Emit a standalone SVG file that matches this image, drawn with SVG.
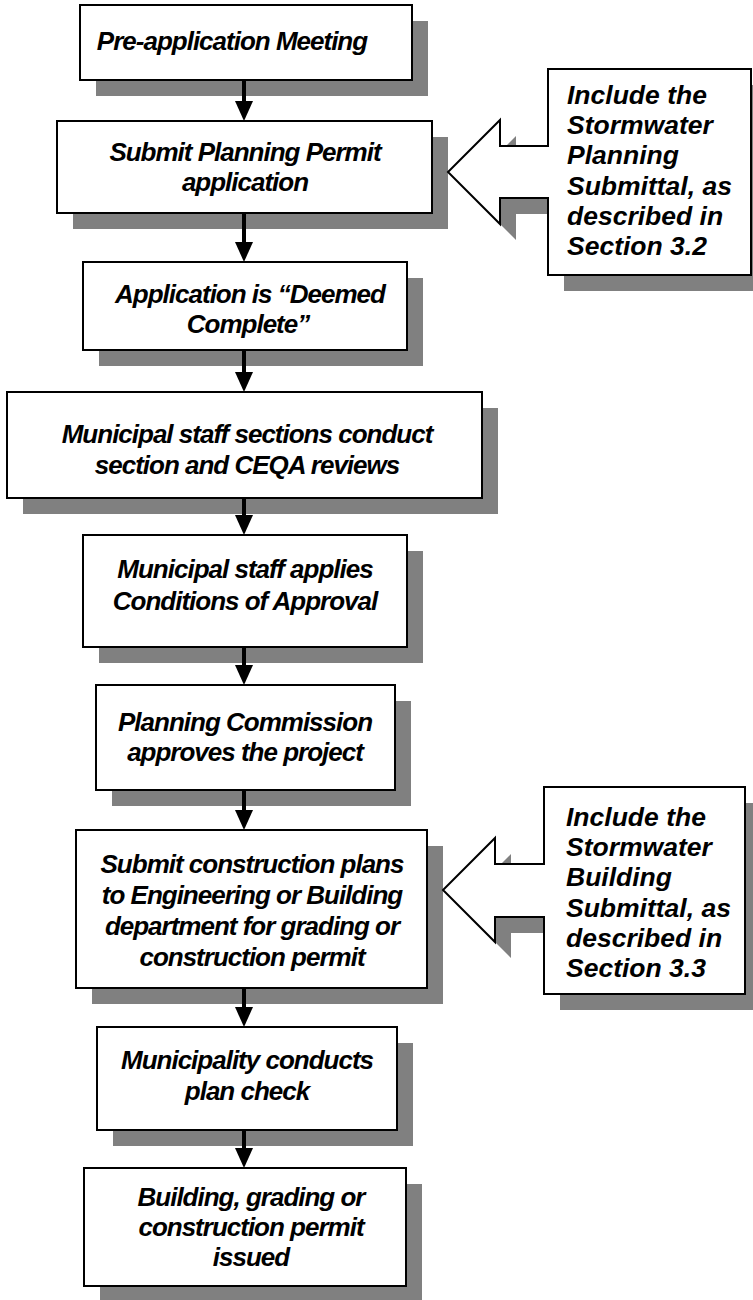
<svg xmlns="http://www.w3.org/2000/svg" width="753" height="1300" viewBox="0 0 753 1300">
<defs>
<style>
.sh{fill:#808080}
.bx{fill:#fff;stroke:#000;stroke-width:2}
.t{font-family:"Liberation Sans",Arial,sans-serif;font-weight:bold;font-style:italic;font-size:26px;letter-spacing:-1px;fill:#000;text-anchor:middle}
.c{font-family:"Liberation Sans",Arial,sans-serif;font-weight:bold;font-style:italic;font-size:26.5px;fill:#000;text-anchor:start}
.ln{stroke:#000;stroke-width:4;fill:none}
</style>
<marker id="ah" markerUnits="userSpaceOnUse" viewBox="0 0 20 18" markerWidth="20" markerHeight="18" refX="10" refY="9" orient="auto">
<polygon points="0,0 20,9 0,18" fill="#000"/>
</marker>
</defs>
<rect width="753" height="1300" fill="#fff"/>

<g id="n1">
<rect class="sh" x="96" y="21" width="332" height="75"/>
<rect class="bx" x="80" y="5" width="332" height="75"/>
<text class="t" x="232" y="50">Pre-application Meeting</text>
</g>

<g id="n2">
<rect class="sh" x="73" y="137" width="375" height="92"/>
<rect class="bx" x="57" y="121" width="375" height="92"/>
<text class="t" x="245" y="161">Submit Planning Permit</text>
<text class="t" x="245" y="191">application</text>
</g>

<g id="n3">
<rect class="sh" x="99" y="278" width="324" height="88"/>
<rect class="bx" x="83" y="262" width="324" height="88"/>
<text class="t" x="250" y="303">Application is “Deemed</text>
<text class="t" x="248" y="333">Complete”</text>
</g>

<g id="n4">
<rect class="sh" x="23" y="408" width="475" height="106"/>
<rect class="bx" x="7" y="392" width="475" height="106"/>
<text class="t" x="247" y="443">Municipal staff sections conduct</text>
<text class="t" x="247" y="474">section and CEQA reviews</text>
</g>

<g id="n5">
<rect class="sh" x="99" y="551" width="324" height="112"/>
<rect class="bx" x="83" y="535" width="324" height="112"/>
<text class="t" x="245" y="578">Municipal staff applies</text>
<text class="t" x="245" y="610">Conditions of Approval</text>
</g>

<g id="n6">
<rect class="sh" x="112" y="701" width="299" height="105"/>
<rect class="bx" x="96" y="685" width="299" height="105"/>
<text class="t" x="245" y="731">Planning Commission</text>
<text class="t" x="245" y="761">approves the project</text>
</g>

<g id="n7">
<rect class="sh" x="92" y="846" width="351" height="158"/>
<rect class="bx" x="76" y="830" width="351" height="158"/>
<text class="t" x="252" y="873">Submit construction plans</text>
<text class="t" x="252" y="904">to Engineering or Building</text>
<text class="t" x="252" y="935">department for grading or</text>
<text class="t" x="252" y="966">construction permit</text>
</g>

<g id="n8">
<rect class="sh" x="113" y="1043" width="300" height="103"/>
<rect class="bx" x="97" y="1027" width="300" height="103"/>
<text class="t" x="247" y="1069">Municipality conducts</text>
<text class="t" x="247" y="1100">plan check</text>
</g>

<g id="n9">
<rect class="sh" x="100" y="1184" width="322" height="118"/>
<rect class="bx" x="84" y="1168" width="322" height="118"/>
<text class="t" x="251" y="1206">Building, grading or</text>
<text class="t" x="251" y="1236">construction permit</text>
<text class="t" x="251" y="1266">issued</text>
</g>

<g id="callout1">
<path class="sh" d="M564,85 H768 V291 H564 V214 H516 V240 L464,188 L516,136 V162 H564 Z"/>
<path class="bx" d="M548,69 H751 V275 H548 V198 H500 V224 L448,172 L500,120 V146 H548 Z"/>
<text class="c" x="567" y="104">Include the</text>
<text class="c" x="567" y="134">Stormwater</text>
<text class="c" x="567" y="164">Planning</text>
<text class="c" x="567" y="195">Submittal, as</text>
<text class="c" x="567" y="225">described in</text>
<text class="c" x="567" y="255">Section 3.2</text>
</g>

<g id="callout2">
<path class="sh" d="M560,803 H761 V1010 H560 V933 H511 V958 L459,906 L511,854 V880 H560 Z"/>
<path class="bx" d="M544,787 H745 V994 H544 V917 H495 V942 L443,890 L495,838 V864 H544 Z"/>
<text class="c" x="566" y="826">Include the</text>
<text class="c" x="566" y="856">Stormwater</text>
<text class="c" x="566" y="886">Building</text>
<text class="c" x="566" y="917">Submittal, as</text>
<text class="c" x="566" y="947">described in</text>
<text class="c" x="566" y="977">Section 3.3</text>
</g>

<g id="connectors">
<line class="ln" x1="244" y1="80" x2="244" y2="111" marker-end="url(#ah)"/>
<line class="ln" x1="244" y1="213" x2="244" y2="252" marker-end="url(#ah)"/>
<line class="ln" x1="244" y1="350" x2="244" y2="382" marker-end="url(#ah)"/>
<line class="ln" x1="244" y1="498" x2="244" y2="525" marker-end="url(#ah)"/>
<line class="ln" x1="244" y1="647" x2="244" y2="675" marker-end="url(#ah)"/>
<line class="ln" x1="244" y1="790" x2="244" y2="820" marker-end="url(#ah)"/>
<line class="ln" x1="244" y1="988" x2="244" y2="1017" marker-end="url(#ah)"/>
<line class="ln" x1="244" y1="1130" x2="244" y2="1158" marker-end="url(#ah)"/>
</g>
</svg>
